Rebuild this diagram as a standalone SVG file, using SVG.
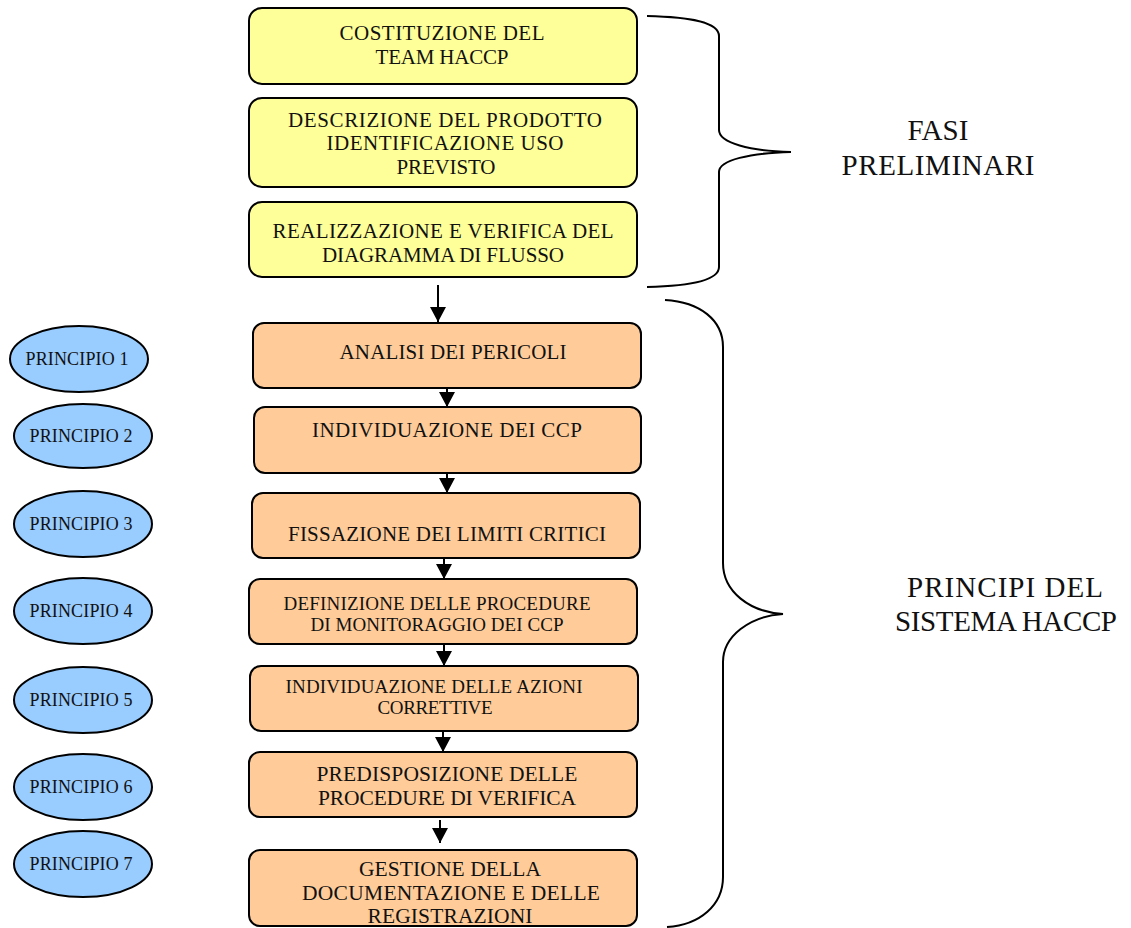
<svg xmlns="http://www.w3.org/2000/svg" width="1131" height="928" viewBox="0 0 1131 928">
<style>
text{font-family:"Liberation Serif","Times New Roman",serif;fill:#111;text-anchor:middle}
.y{fill:#FFFF99;stroke:#000;stroke-width:2}
.o{fill:#FFCC99;stroke:#000;stroke-width:2}
.e{fill:#99CCFF;stroke:#000;stroke-width:2}
.t{font-size:21px}
.s{font-size:19px}
.l{font-size:21.5px}
.p{font-size:18px}
.big{font-size:29px}
.br{fill:none;stroke:#000;stroke-width:2}
.c{stroke:#000;stroke-width:2;fill:none}
</style>
<defs>
<marker id="ah" markerUnits="userSpaceOnUse" markerWidth="16" markerHeight="16" refX="15" refY="8" orient="auto">
<path d="M0,0 L15,8 L0,16 z" fill="#000"/>
</marker>
</defs>
<rect width="1131" height="928" fill="#fff"/>

<g id="n-costituzione"><rect class="y" x="249" y="8" width="388" height="76" rx="13"/>
<text class="t" x="442" y="40" textLength="205">COSTITUZIONE DEL</text>
<text class="t" x="442" y="64" textLength="133">TEAM HACCP</text></g>

<g id="n-descrizione"><rect class="y" x="249" y="98" width="388" height="89" rx="13"/>
<text class="t" x="445" y="127" textLength="314">DESCRIZIONE DEL PRODOTTO</text>
<text class="t" x="445" y="150" textLength="237">IDENTIFICAZIONE USO</text>
<text class="t" x="446" y="174" textLength="99">PREVISTO</text></g>

<g id="n-realizzazione"><rect class="y" x="249" y="202" width="388" height="75" rx="13"/>
<text class="t" x="443" y="238" textLength="341">REALIZZAZIONE E VERIFICA DEL</text>
<text class="t" x="443" y="262" textLength="242">DIAGRAMMA DI FLUSSO</text></g>

<g id="n-analisi"><rect class="o" x="253" y="323" width="388" height="65" rx="11"/>
<text class="t" x="453" y="359" textLength="227">ANALISI DEI PERICOLI</text></g>

<g id="n-ccp"><rect class="o" x="254" y="407" width="387" height="66" rx="11"/>
<text class="t" x="447" y="437" textLength="270">INDIVIDUAZIONE DEI CCP</text></g>

<g id="n-limiti"><rect class="o" x="252" y="493" width="388" height="65" rx="11"/>
<text class="t" x="447" y="541" textLength="318">FISSAZIONE DEI LIMITI CRITICI</text></g>

<g id="n-monitoraggio"><rect class="o" x="249" y="579" width="388" height="65" rx="11"/>
<text class="s" x="437" y="610" textLength="307">DEFINIZIONE DELLE PROCEDURE</text>
<text class="s" x="437" y="631" textLength="253">DI MONITORAGGIO DEI CCP</text></g>

<g id="n-azioni"><rect class="o" x="250" y="666" width="388" height="65" rx="11"/>
<text class="s" x="434" y="693" textLength="297">INDIVIDUAZIONE DELLE AZIONI</text>
<text class="s" x="435" y="714" textLength="115">CORRETTIVE</text></g>

<g id="n-verifica"><rect class="o" x="249" y="752" width="388" height="65" rx="11"/>
<text class="l" x="447" y="781" textLength="261">PREDISPOSIZIONE DELLE</text>
<text class="l" x="447" y="805" textLength="258">PROCEDURE DI VERIFICA</text></g>

<g id="n-gestione"><rect class="o" x="249" y="850" width="388" height="76" rx="11"/>
<text class="l" x="450" y="876" textLength="182">GESTIONE DELLA</text>
<text class="l" x="451" y="900" textLength="298">DOCUMENTAZIONE E DELLE</text>
<text class="l" x="450" y="923" textLength="165">REGISTRAZIONI</text></g>

<g id="p1"><ellipse class="e" cx="79" cy="359" rx="69" ry="33"/><text class="p" x="77" y="365" textLength="103">PRINCIPIO 1</text></g>
<g id="p2"><ellipse class="e" cx="83" cy="436" rx="69" ry="32"/><text class="p" x="81" y="442" textLength="103">PRINCIPIO 2</text></g>
<g id="p3"><ellipse class="e" cx="83" cy="524" rx="69" ry="33"/><text class="p" x="81" y="530" textLength="103">PRINCIPIO 3</text></g>
<g id="p4"><ellipse class="e" cx="83" cy="611" rx="69" ry="33"/><text class="p" x="81" y="617" textLength="103">PRINCIPIO 4</text></g>
<g id="p5"><ellipse class="e" cx="83" cy="700" rx="69" ry="33"/><text class="p" x="81" y="706" textLength="103">PRINCIPIO 5</text></g>
<g id="p6"><ellipse class="e" cx="83" cy="787" rx="69" ry="33"/><text class="p" x="81" y="793" textLength="103">PRINCIPIO 6</text></g>
<g id="p7"><ellipse class="e" cx="83" cy="864" rx="69" ry="33"/><text class="p" x="81" y="870" textLength="103">PRINCIPIO 7</text></g>

<g id="braces">
<path class="br" d="M647,16 C690,17 719,22 719,36 L719,130 C719,143 750,151 791,152 C750,153 719,160 719,172 L719,267 C719,280 690,286 647,287"/>
<path class="br" d="M665,300 C700,302 723,320 723,347 L723,563 C723,592 750,612 783,614 C750,616 723,636 723,662 L723,877 C723,905 700,925 667,927"/>
</g>
<g id="labels">
<text class="big" x="938" y="140" textLength="61">FASI</text>
<text class="big" x="938" y="175" textLength="193">PRELIMINARI</text>
<text class="big" x="1005" y="597" textLength="196">PRINCIPI DEL</text>
<text class="big" x="1006" y="631" textLength="222">SISTEMA HACCP</text>
</g>

<g id="connectors">
<line class="c" x1="438" y1="285" x2="438" y2="322" marker-end="url(#ah)"/>
<line class="c" x1="447" y1="388" x2="447" y2="407" marker-end="url(#ah)"/>
<line class="c" x1="447" y1="473" x2="447" y2="493" marker-end="url(#ah)"/>
<line class="c" x1="444" y1="558" x2="444" y2="579" marker-end="url(#ah)"/>
<line class="c" x1="444" y1="644" x2="444" y2="666" marker-end="url(#ah)"/>
<line class="c" x1="443" y1="731" x2="443" y2="752" marker-end="url(#ah)"/>
<line class="c" x1="440" y1="820" x2="440" y2="843" marker-end="url(#ah)"/>
</g>
</svg>
